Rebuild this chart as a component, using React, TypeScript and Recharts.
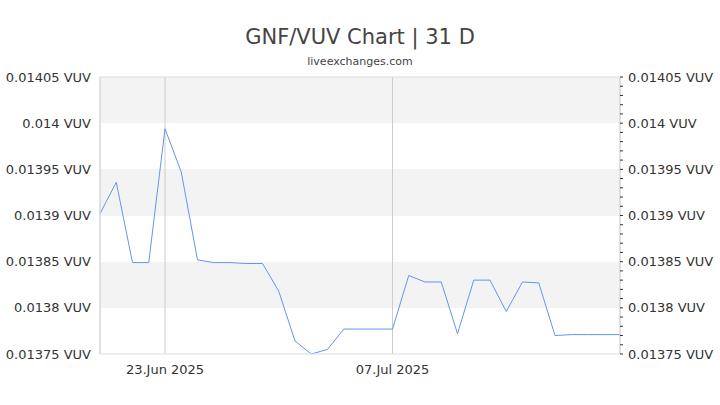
import { LineChart, Line, XAxis, YAxis, CartesianGrid, ReferenceLine } from "recharts";

// days shown on the chart (19 Jun - 21 Jul 2025)
const dates = [
  "19.Jun 2025", "20.Jun 2025", "21.Jun 2025", "22.Jun 2025", "23.Jun 2025",
  "24.Jun 2025", "25.Jun 2025", "26.Jun 2025", "27.Jun 2025", "28.Jun 2025",
  "29.Jun 2025", "30.Jun 2025", "01.Jul 2025", "02.Jul 2025", "03.Jul 2025",
  "04.Jul 2025", "05.Jul 2025", "06.Jul 2025", "07.Jul 2025", "08.Jul 2025",
  "09.Jul 2025", "10.Jul 2025", "11.Jul 2025", "12.Jul 2025", "13.Jul 2025",
  "14.Jul 2025", "15.Jul 2025", "16.Jul 2025", "17.Jul 2025", "18.Jul 2025",
  "19.Jul 2025", "20.Jul 2025", "21.Jul 2025",
];

const rates = [
  0.013902, 0.013936, 0.013849, 0.013849, 0.013994, 0.013947, 0.013852,
  0.013849, 0.013849, 0.013848, 0.013848, 0.013818, 0.013764, 0.01375,
  0.013755, 0.013777, 0.013777, 0.013777, 0.013777, 0.013835, 0.013828,
  0.013828, 0.013772, 0.01383, 0.01383, 0.013796, 0.013828, 0.013827,
  0.01377, 0.013771, 0.013771, 0.013771, 0.013771,
];

const xTicks = ["23.Jun 2025", "07.Jul 2025"];

const yTicks = [0.01375, 0.0138, 0.01385, 0.0139, 0.01395, 0.014, 0.01405];

// small ticks on the right axis
const yMinorTicks = [
  0.01375, 0.01376, 0.01377, 0.01378, 0.01379, 0.0138, 0.01381, 0.01382,
  0.01383, 0.01384, 0.01385, 0.01386, 0.01387, 0.01388, 0.01389, 0.0139,
  0.01391, 0.01392, 0.01393, 0.01394, 0.01395, 0.01396, 0.01397, 0.01398,
  0.01399, 0.014, 0.01401, 0.01402, 0.01403, 0.01404, 0.01405,
];

const domain: [number, number] = [0.01375, 0.01405];
const FONT = "'DejaVu Sans', sans-serif";

const isMajor = (v: number) => yTicks.some((t) => Math.abs(t - v) < 1e-9);

function LeftTick(props: any) {
  const { x, y, payload } = props;
  return (
    <text x={x} y={y} dy={4.5} textAnchor="end" fontSize={13} fill="#333" fontFamily={FONT}>
      {payload.value} VUV
    </text>
  );
}

function RightTick(props: any) {
  const { x, y, payload } = props;
  if (!isMajor(payload.value)) return null;
  return (
    <text x={x} y={y} dy={4.5} textAnchor="start" fontSize={13} fill="#333" fontFamily={FONT}>
      {payload.value} VUV
    </text>
  );
}

export default function App() {
  const rows = dates.map((d, i) => ({ date: d, rate: rates[i] }));

  return (
    <div style={{ position: "absolute", left: 0, top: 0, width: 720, height: 405, background: "#fff" }}>
      <div
        style={{
          position: "absolute", top: 25, width: 720, textAlign: "center",
          fontFamily: FONT, fontSize: 21, color: "#444",
        }}
      >
        GNF/VUV Chart | 31 D
      </div>
      <div
        style={{
          position: "absolute", top: 55, width: 720, textAlign: "center",
          fontFamily: FONT, fontSize: 11, color: "#444",
        }}
      >
        liveexchanges.com
      </div>
      <LineChart
        width={720}
        height={405}
        data={rows}
        margin={{ top: 77, right: 0, bottom: 0, left: 0 }}
      >
        <CartesianGrid
          yAxisId="left"
          vertical={false}
          stroke="transparent"
          horizontalFill={["#f3f3f3", "#ffffff"]}
        />
        <CartesianGrid yAxisId="left" horizontal={false} stroke="#ccc" />
        <XAxis
          dataKey="date"
          ticks={xTicks}
          interval={0}
          height={51}
          tickLine={false}
          tickMargin={5}
          axisLine={{ stroke: "#ddd" }}
          tick={{ fontSize: 13, fill: "#333", fontFamily: FONT }}
        />
        <YAxis
          yAxisId="left"
          domain={domain}
          allowDataOverflow
          ticks={yTicks}
          interval={0}
          width={100}
          tickLine={false}
          tickSize={6}
          tickMargin={3}
          axisLine={{ stroke: "#ddd" }}
          tick={<LeftTick />}
        />
        <YAxis
          yAxisId="right"
          orientation="right"
          domain={domain}
          allowDataOverflow
          ticks={yMinorTicks}
          interval={0}
          width={100}
          tickSize={3}
          tickMargin={5}
          tickLine={{ stroke: "#333" }}
          axisLine={{ stroke: "#ddd" }}
          tick={<RightTick />}
        />
        <ReferenceLine yAxisId="left" y={0.01405} stroke="#ddd" />
        <Line
          yAxisId="left"
          type="linear"
          dataKey="rate"
          stroke="#6495ed"
          strokeWidth={1}
          dot={false}
          isAnimationActive={false}
        />
      </LineChart>
    </div>
  );
}
